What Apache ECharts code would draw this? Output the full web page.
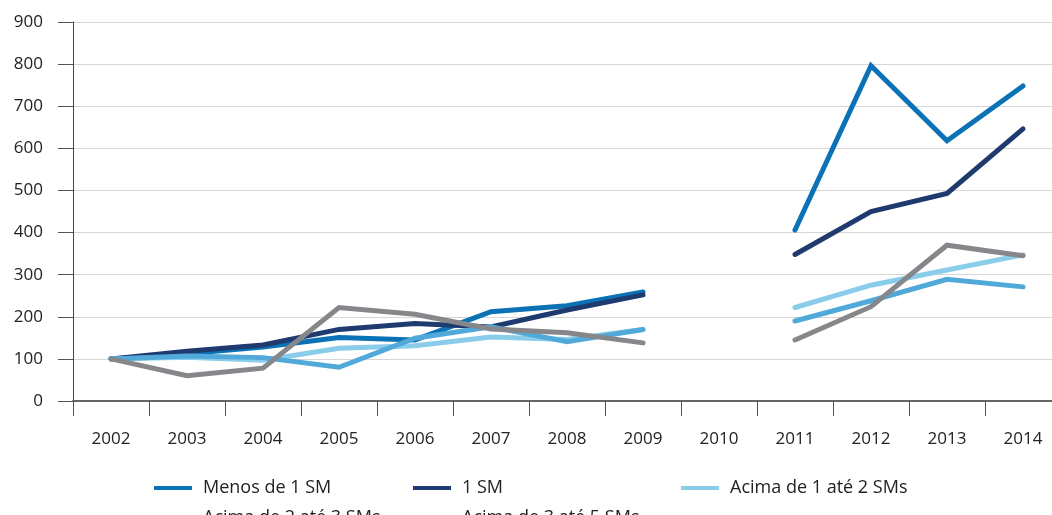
<!DOCTYPE html>
<html>
<head>
<meta charset="utf-8">
<script src="https://cdn.jsdelivr.net/npm/echarts@6/dist/echarts.min.js"></script>
<style>
  html, body { margin: 0; padding: 0; background: #fff; overflow: hidden; }
  /* a área do gráfico passa um pouco da borda direita da janela */
  #chart { width: 1061px; height: 515px; }
</style>
</head>
<body>
<div id="chart"></div>
<script>
// anos (eixo x)
const years = ['2002', '2003', '2004', '2005', '2006', '2007', '2008', '2009', '2010', '2011', '2012', '2013', '2014']

// séries (índice, 2002 = 100); 2010 sem dado
const menos1 = [100, 112, 128, 151, 145, 212, 226, 259, null, 406, 796, 618, 748]
const um = [100, 118, 133, 170, 184, 176, 216, 252, null, 348, 450, 493, 646]
const de1a2 = [100, 104, 97, 125, 131, 152, 146, 170, null, 222, 275, 311, 347]
const de2a3 = [100, 107, 103, 80, 149, 176, 141, 170, null, 190, 238, 289, 271]
const de3a5 = [100, 60, 78, 222, 206, 171, 162, 138, null, 145, 224, 370, 345]

const yTicks = [0, 100, 200, 300, 400, 500, 600, 700, 800, 900]

const names = ['Menos de 1 SM', '1 SM', 'Acima de 1 até 2 SMs', 'Acima de 2 até 3 SMs', 'Acima de 3 até 5 SMs']
const colors = ['#0b72b5', '#1f3a6e', '#8acdea', '#50a9d8', '#86878a']
const values = [menos1, um, de1a2, de2a3, de3a5]

const font = '"Open Sans", "Noto Sans", sans-serif'

// posições das legendas (duas linhas, três colunas)
const legendPos = [
  { left: 154, top: 479 },
  { left: 413, top: 479 },
  { left: 681, top: 479 },
  { left: 154, top: 509 },
  { left: 413, top: 509 }
]

const chart = echarts.init(document.getElementById('chart'))

const option = {
  animation: false,
  color: colors,
  grid: { left: 73, right: 0, top: 22, bottom: 114 },
  legend: names.map((n, i) => ({
    data: [n],
    left: legendPos[i].left,
    top: legendPos[i].top,
    padding: 0,
    icon: 'rect',
    itemWidth: 38,
    itemHeight: 4,
    textStyle: { fontFamily: font, fontSize: 18, color: '#222', padding: [0, 0, 0, 6] }
  })),
  xAxis: {
    type: 'category',
    data: years,
    boundaryGap: true,
    axisLine: { lineStyle: { color: '#666', width: 2 } },
    axisTick: { show: true, length: 15, lineStyle: { color: '#555', width: 1 } },
    axisLabel: { margin: 30, fontFamily: font, fontSize: 17, color: '#222' }
  },
  yAxis: {
    type: 'value',
    min: yTicks[0],
    max: yTicks[yTicks.length - 1],
    interval: 100,
    axisLine: { show: true, lineStyle: { color: '#444', width: 1 } },
    axisTick: { show: true, length: 15, lineStyle: { color: '#555' } },
    axisLabel: { margin: 30, fontFamily: font, fontSize: 17, color: '#222' },
    splitLine: { lineStyle: { color: '#d6d6d6', width: 1 } }
  },
  series: names.map((n, i) => ({
    name: n,
    type: 'line',
    data: values[i],
    symbol: 'none',
    connectNulls: false,
    lineStyle: { width: 5, color: colors[i], cap: 'round', join: 'miter' },
    itemStyle: { color: colors[i] }
  }))
}

chart.setOption(option)
</script>
</body>
</html>
